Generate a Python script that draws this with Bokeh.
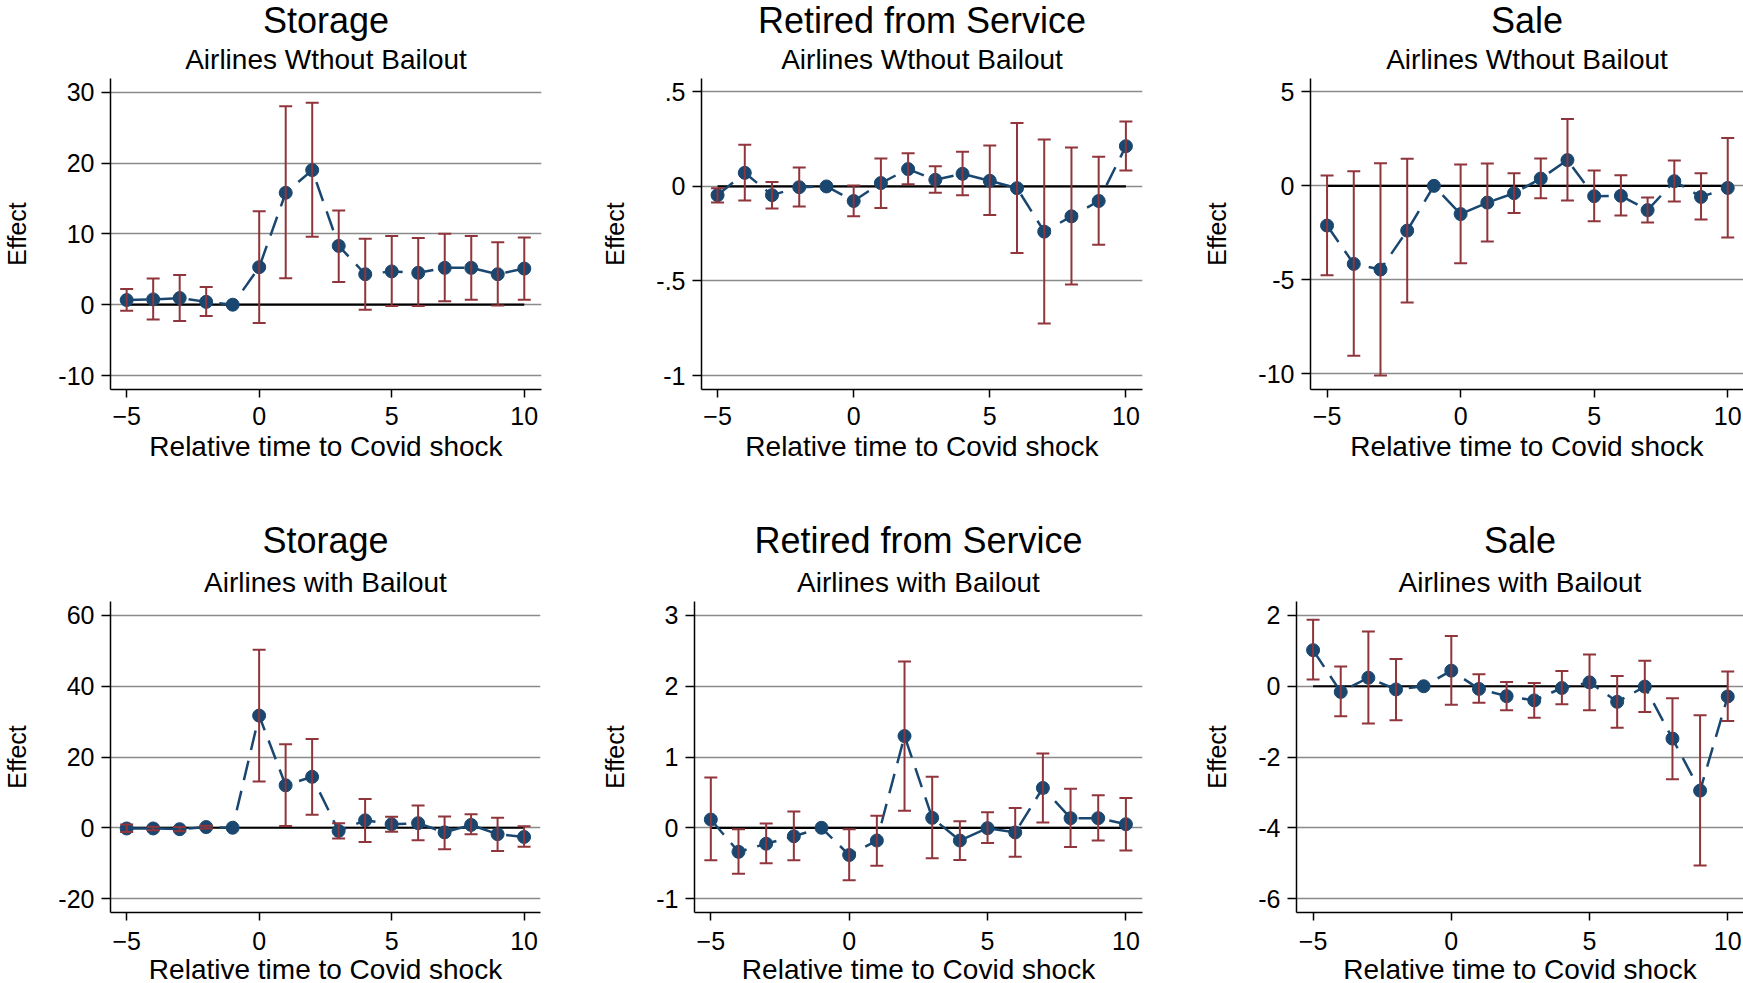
import numpy as np
from bokeh.plotting import figure
from bokeh.models import Range1d, FixedTicker, Title, ColumnDataSource
from bokeh.layouts import column, row
from bokeh.embed import file_html
from bokeh.resources import INLINE

nan = np.nan

rel_time = list(range(-5, 11))

# Airlines without bailout
storage_nb = [0.66, 0.75, 0.94, 0.40, 0.0, 5.3, 15.8, 19.0, 8.3, 4.3, 4.7, 4.5, 5.2, 5.2, 4.3, 5.1]
storage_nb_hi = [2.2, 3.7, 4.2, 2.5, nan, 13.2, 28.0, 28.5, 13.3, 9.3, 9.7, 9.4, 10.0, 9.7, 8.8, 9.5]
storage_nb_lo = [-0.85, -2.1, -2.3, -1.6, nan, -2.6, 3.75, 9.6, 3.2, -0.7, -0.2, -0.2, 0.5, 0.7, -0.1, 0.7]

retired_nb = [-0.046, 0.072, -0.046, -0.004, 0.0, -0.077, 0.018, 0.092, 0.035, 0.067, 0.030, -0.009, -0.239, -0.158, -0.077, 0.213]
retired_nb_hi = [-0.01, 0.22, 0.023, 0.10, nan, 0.005, 0.148, 0.176, 0.107, 0.183, 0.217, 0.336, 0.248, 0.206, 0.157, 0.343]
retired_nb_lo = [-0.085, -0.074, -0.116, -0.106, nan, -0.157, -0.114, 0.012, -0.033, -0.046, -0.151, -0.352, -0.725, -0.518, -0.308, 0.085]

sale_nb = [-2.11, -4.15, -4.45, -2.38, 0.0, -1.5, -0.89, -0.39, 0.39, 1.37, -0.55, -0.53, -1.29, 0.25, -0.59, -0.11]
sale_nb_hi = [0.55, 0.78, 1.2, 1.44, nan, 1.13, 1.19, 0.67, 1.45, 3.56, 0.82, 0.57, -0.62, 1.35, 0.67, 2.55]
sale_nb_lo = [-4.75, -9.04, -10.09, -6.2, nan, -4.11, -2.96, -1.44, -0.66, -0.78, -1.88, -1.58, -1.95, -0.83, -1.79, -2.75]

# Airlines with bailout
storage_b = [-0.2, -0.2, -0.4, 0.2, 0.0, 31.7, 12.0, 14.4, -0.9, 2.1, 1.0, 1.3, -1.3, 0.8, -1.8, -2.6]
storage_b_hi = [0.9, 0.3, 0.2, 0.6, nan, 50.3, 23.6, 25.1, 1.3, 8.1, 3.1, 6.3, 3.2, 3.8, 2.8, 0.4]
storage_b_lo = [-1.2, -0.7, -1.0, -0.2, nan, 13.1, 0.5, 3.7, -3.0, -4.0, -1.1, -3.5, -6.1, -1.8, -6.6, -5.4]

retired_b = [0.117, -0.34, -0.225, -0.12, 0.0, -0.385, -0.18, 1.296, 0.14, -0.18, -0.005, -0.066, 0.563, 0.136, 0.136, 0.05]
retired_b_hi = [0.71, -0.02, 0.06, 0.23, nan, -0.02, 0.17, 2.35, 0.72, 0.094, 0.22, 0.28, 1.05, 0.55, 0.46, 0.42]
retired_b_lo = [-0.46, -0.65, -0.50, -0.46, nan, -0.74, -0.535, 0.24, -0.43, -0.455, -0.216, -0.41, 0.075, -0.27, -0.18, -0.32]

sale_b = [1.02, -0.16, 0.24, -0.09, 0.0, 0.44, -0.075, -0.28, -0.40, -0.05, 0.11, -0.44, -0.01, -1.48, -2.95, -0.29]
sale_b_hi = [1.88, 0.56, 1.55, 0.77, nan, 1.42, 0.34, 0.12, 0.09, 0.43, 0.90, 0.29, 0.72, -0.34, -0.82, 0.42]
sale_b_lo = [0.19, -0.85, -1.05, -0.96, nan, -0.52, -0.47, -0.68, -0.89, -0.51, -0.68, -1.17, -0.73, -2.63, -5.07, -0.98]

x_ticks = [-5, 0, 5, 10]
titles = ["Storage", "Retired from Service", "Sale"]
subtitle_nb = "Airlines Wthout Bailout"
subtitle_b = "Airlines with Bailout"
x_label = "Relative time to Covid shock"
y_label = "Effect"

FONT = "Liberation Sans"
NAVY = "#1a476f"
MAROON = "#90353b"
GRID = "#8a8a8a"


def panel(title, subtitle, est, hi, lo, yticks, ylabels, yr, xr, width, height,
          bl, br, bt, bb, main_standoff, bottom_row):
    p = figure(width=width, height=height, output_backend="svg", toolbar_location=None,
               x_range=Range1d(*xr), y_range=Range1d(*yr),
               min_border_left=bl, min_border_right=br, min_border_top=bt, min_border_bottom=bb)
    p.title.visible = False
    p.outline_line_color = None
    p.background_fill_color = "white"
    p.border_fill_color = "white"

    sub = Title(text=subtitle, text_font=FONT, text_font_size="28px", text_font_style="normal",
                text_color="black", align="center", standoff=8)
    p.add_layout(sub, "above")
    main = Title(text=title, text_font=FONT, text_font_size="36px", text_font_style="normal",
                 text_color="black", align="center", standoff=main_standoff)
    p.add_layout(main, "above")

    for ax in (p.xaxis[0], p.yaxis[0]):
        ax.axis_line_color = "black"
        ax.axis_line_width = 1.5
        ax.major_tick_line_color = "black"
        ax.major_tick_line_width = 1.5
        ax.major_tick_in = 0
        ax.minor_tick_line_color = None
        ax.major_label_text_font = FONT
        ax.major_label_text_font_size = "25px"
        ax.major_label_text_color = "black"
        ax.axis_label_text_font = FONT
        ax.axis_label_text_font_style = "normal"
        ax.axis_label_text_color = "black"
    p.xaxis.major_tick_out = 8
    p.yaxis.major_tick_out = 9
    p.xaxis.axis_label_text_font_size = "28px"
    p.yaxis.axis_label_text_font_size = "25px"
    p.xaxis.ticker = FixedTicker(ticks=x_ticks)
    p.yaxis.ticker = FixedTicker(ticks=yticks)
    p.yaxis.major_label_overrides = {t: l for t, l in zip(yticks, ylabels)}
    p.yaxis.major_label_orientation = "horizontal"
    p.yaxis.axis_label = y_label
    p.yaxis.major_label_standoff = 7
    p.yaxis.axis_label_standoff = 24
    if bottom_row:
        # x label as a title hanging below the axis, so that it fits the page height
        p.xaxis.major_label_standoff = 11
        xl = Title(text=x_label, text_font=FONT, text_font_size="28px", text_font_style="normal",
                   text_color="black", align="center", standoff=-2)
        p.add_layout(xl, "below")
    else:
        p.xaxis.axis_label = x_label
        p.xaxis.major_label_standoff = 9
        p.xaxis.axis_label_standoff = 3

    p.xgrid.grid_line_color = None
    p.ygrid.grid_line_color = GRID
    p.ygrid.grid_line_width = 1.5

    src = ColumnDataSource(dict(x=rel_time, y=est, hi=hi, lo=lo))
    p.line(x=[rel_time[0], rel_time[-1]], y=[0, 0], line_color="black", line_width=2.2)
    p.line("x", "y", source=src, line_color=NAVY, line_width=2.5, line_dash="20 11")
    p.scatter("x", "y", source=src, size=13, fill_color=NAVY, line_color=NAVY, marker="circle")
    p.segment(x0="x", y0="lo", x1="x", y1="hi", source=src, line_color=MAROON, line_width=2)
    p.scatter("x", "hi", source=src, marker="dash", size=13, line_color=MAROON, line_width=2)
    p.scatter("x", "lo", source=src, marker="dash", size=13, line_color=MAROON, line_width=2)
    return p


TOP_H, BOT_H = 490, 493

p1 = panel(titles[0], subtitle_nb, storage_nb, storage_nb_hi, storage_nb_lo,
           [-10, 0, 10, 20, 30], ["-10", "0", "10", "20", "30"], (-11.97, 31.93), (-5.61, 10.65),
           590, TOP_H, 107, 49, 78, 101, -7, False)
p2 = panel(titles[1], subtitle_nb, retired_nb, retired_nb_hi, retired_nb_lo,
           [-1, -0.5, 0, 0.5], ["-1", "-.5", "0", ".5"], (-1.074, 0.571), (-5.59, 10.61),
           610, TOP_H, 111, 58, 78, 101, -7, False)
p3 = panel(titles[2], subtitle_nb, sale_nb, sale_nb_hi, sale_nb_lo,
           [-10, -5, 0, 5], ["-10", "-5", "0", "5"], (-10.83, 5.71), (-5.62, 10.59),
           543, TOP_H, 110, 0, 78, 101, -7, False)
p4 = panel(titles[0], subtitle_b, storage_b, storage_b_hi, storage_b_lo,
           [-20, 0, 20, 40, 60], ["-20", "0", "20", "40", "60"], (-23.95, 63.95), (-5.61, 10.62),
           590, BOT_H, 107, 50, 111, 70, -1, True)
p5 = panel(titles[1], subtitle_b, retired_b, retired_b_hi, retired_b_lo,
           [-1, 0, 1, 2, 3], ["-1", "0", "1", "2", "3"], (-1.197, 3.197), (-5.59, 10.6),
           610, BOT_H, 104, 58, 111, 70, -1, True)
p6 = panel(titles[2], subtitle_b, sale_b, sale_b_hi, sale_b_lo,
           [-6, -4, -2, 0, 2], ["-6", "-4", "-2", "0", "2"], (-6.395, 2.395), (-5.6, 10.57),
           543, BOT_H, 95, 0, 111, 70, -1, True)

layout = column(row(p1, p2, p3, spacing=0), row(p4, p5, p6, spacing=0), spacing=0)

open("out.html", "w").write(file_html(layout, INLINE))
